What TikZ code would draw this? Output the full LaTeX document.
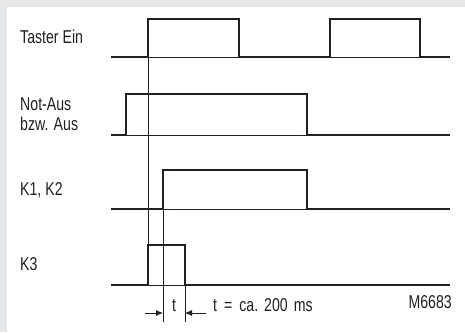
\documentclass[tikz,border=0pt]{standalone}
\usepackage{fontspec}
\setmainfont[FakeStretch=0.76]{Liberation Sans}
\usetikzlibrary{arrows.meta}
\definecolor{framegray}{HTML}{E6E7E8}
\definecolor{ink}{HTML}{231F20}
\begin{document}
\begin{tikzpicture}[x=1pt,y=-1pt,
  sig/.style={draw=ink,line width=2.2pt,line join=miter},
  thin/.style={draw=ink,line width=0.8pt},
  lbl/.style={anchor=base west,inner sep=0pt,font=\fontsize{18.6}{21}\selectfont,text=ink},
  dim/.style={draw=ink,line width=0.8pt,-{Latex[length=7pt,width=6pt]}}]
\useasboundingbox (0,0) rectangle (465,332);
\fill[framegray] (0,0) rectangle (465,332);
\fill[white] (7,7) rectangle (465,332);
% labels
\node[lbl] (l1) at (20,43.3) {Taster Ein};
\node[lbl] (l2a) at (20,110) {Not-Aus};
\node[lbl] (l2b) at (20,130.5) {bzw. Aus};
\node[lbl] (l3) at (20,195) {K1, K2};
\node[lbl] (l4) at (20,270) {K3};
% thin baselines
\draw[thin] (148,57) -- (239,57) (330,57) -- (420,57);
\draw[thin] (126,135) -- (307,135);
\draw[thin] (163,209) -- (307,209);
\draw[thin] (148,285) -- (185,285);
% signals
\draw[sig] (111,57) -- (148,57) -- (148,19) -- (239,19) -- (239,57) -- (330,57) -- (330,19) -- (420,19) -- (420,57) -- (450,57);
\draw[sig] (111,135) -- (126,135) -- (126,94) -- (307,94) -- (307,135) -- (450,135);
\draw[sig] (111,209) -- (163,209) -- (163,170) -- (307,170) -- (307,209) -- (450,209);
\draw[sig] (111,285) -- (148,285) -- (148,245) -- (185,245) -- (185,285) -- (450,285);
% guide lines
\coordinate (g1t) at (148,19);
\coordinate (g1b) at (148,285);
\coordinate (g2t) at (163,170);
\coordinate (g2b) at (163,322);
\coordinate (g3t) at (185,245);
\coordinate (g3b) at (185,322);
\draw[thin] (g1t) -- (g1b);
\draw[thin] (g2t) -- (g2b);
\draw[thin] (g3t) -- (g3b);
% dimension arrows
\coordinate (a1) at (145,313);
\coordinate (a1t) at (163,313);
\coordinate (a2) at (206,313);
\coordinate (a2t) at (185,313);
\draw[dim] (a1) -- (a1t);
\draw[dim] (a2) -- (a2t);
\node[lbl,anchor=base] (t) at (174,311.5) {t};
\node[lbl] (tt) at (213,311.5) {t\hspace{7pt}=\hspace{7pt}ca.\hspace{6pt}200\hspace{6pt}ms};
\node[lbl,anchor=base east] (m) at (452,308) {M6683};
\end{tikzpicture}
\end{document}
